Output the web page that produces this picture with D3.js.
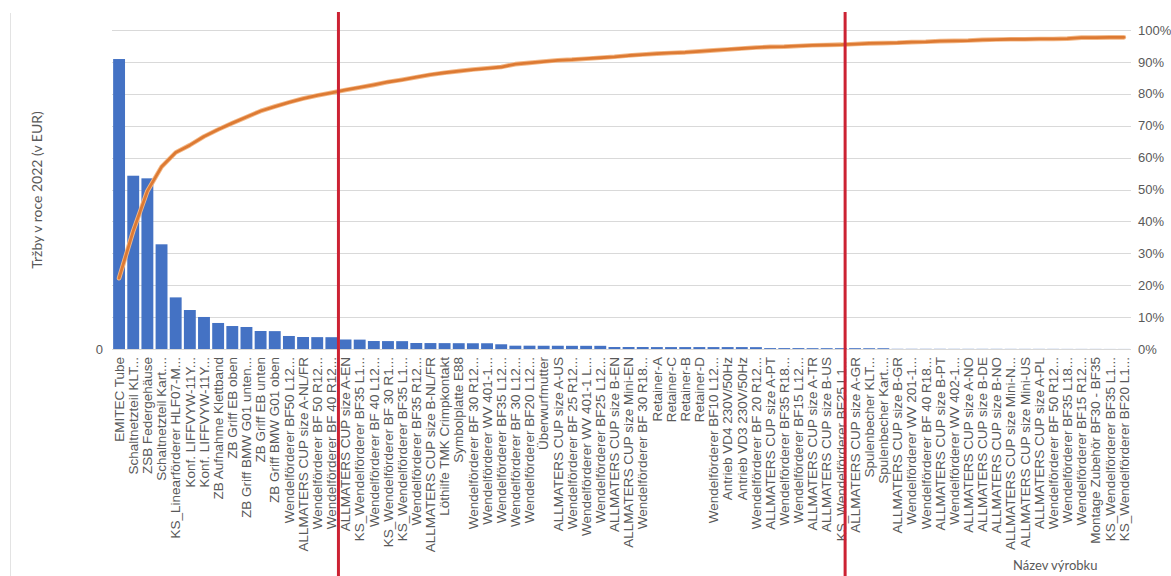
<!DOCTYPE html>
<html>
<head>
<meta charset="utf-8">
<script src="https://cdn.jsdelivr.net/npm/d3@7"></script>
<style>
  html, body { margin: 0; padding: 0; background: #ffffff; }
  svg { display: block; font-family: "Lato", "Open Sans", sans-serif; }
</style>
</head>
<body>
<svg id="chart" width="1171" height="576"></svg>
<script>
// Products ordered by 2022 revenue (Pareto order)
const categories = [
  "EMITEC Tube", "Schaltnetzteil KLT...", "ZSB Federgehäuse", "Schaltnetzteil Kart....",
  "KS_Linearförderer HLF07-M...", "Konf. LIFFVYW-11Y...", "Konf. LIFFVYW-11Y...", "ZB Aufnahme Klettband",
  "ZB Griff EB oben", "ZB Griff BMW G01 unten...", "ZB Griff EB unten", "ZB Griff BMW G01 oben",
  "Wendelförderer BF50 L12...", "ALLMATERS CUP size A-NL/FR", "Wendelförderer BF 50 R12...", "Wendelförderer BF 40 R12...",
  "ALLMATERS CUP size A-EN", "KS_Wendelförderer BF35 L1...", "Wendelförderer BF 40 L12...", "KS_Wendelförderer BF 30 R1...",
  "KS_Wendelförderer BF35 L1...", "Wendelförderer BF35 R12...", "ALLMATERS CUP size B-NL/FR", "Löthilfe TMK Crimpkontakt",
  "Symbolplatte E88", "Wendelförderer BF 30 R12...", "Wendelförderer WV 401-1...", "Wendelförderer BF35 L12...",
  "Wendelförderer BF 30 L12...", "Wendelförderer BF20 L12...", "Überwurfmutter", "ALLMATERS CUP size A-US",
  "Wendelförderer BF 25 R12...", "Wendelförderer WV 401-1 L...", "Wendelförderer BF25 L12...", "ALLMATERS CUP size B-EN",
  "ALLMATERS CUP size Mini-EN", "Wendelförderer BF 30 R18...", "Retainer-A", "Retainer-C",
  "Retainer-B", "Retainer-D", "Wendelförderer BF10 L12...", "Antrieb VD4 230V/50Hz",
  "Antrieb VD3 230V/50Hz", "Wendelförderer BF 20 R12...", "ALLMATERS CUP size A-PT", "Wendelförderer BF35 R18...",
  "Wendelförderer BF15 L12...", "ALLMATERS CUP size A-TR", "ALLMATERS CUP size B-US", "KS_Wendelförderer BF25 L1...",
  "ALLMATERS CUP size A-GR", "Spulenbecher KLT...", "Spulenbecher Kart....", "ALLMATERS CUP size B-GR",
  "Wendelförderer WV 201-1...", "Wendelförderer BF 40 R18...", "ALLMATERS CUP size B-PT", "Wendelförderer WV 402-1...",
  "ALLMATERS CUP size A-NO", "ALLMATERS CUP size B-DE", "ALLMATERS CUP size B-NO", "ALLMATERS CUP size Mini-N...",
  "ALLMATERS CUP size Mini-US", "ALLMATERS CUP size A-PL", "Wendelförderer BF 50 R12...", "Wendelförderer BF35 L18...",
  "Wendelförderer BF15 R12...", "Montage Zubehör BF30 - BF35", "KS_Wendelförderer BF35 L1...", "KS_Wendelförderer BF20 L1..."
];

// Revenue 2022 in EUR per product
const revenue = [
  454500, 271600, 267500, 164100, 80900, 61100, 50200, 40800,
  36000, 34500, 28200, 28000, 20400, 18800, 18600, 18500,
  14900, 14700, 12500, 12400, 12300, 9400, 9300, 9200,
  9100, 9000, 9000, 7400, 5200, 5200, 5100, 5100,
  5000, 5000, 5000, 3100, 3100, 3100, 3000, 3000,
  3000, 3000, 3000, 3000, 3000, 2900, 1400, 1400,
  1400, 1300, 1300, 1300, 1300, 1200, 1200, 300,
  300, 300, 300, 250, 250, 250, 250, 200,
  200, 200, 200, 150, 150, 150, 100, 100
];

// Cumulative share of total revenue (0..1)
const cumulativeShare = [
  0.222, 0.370, 0.495, 0.571, 0.616, 0.639, 0.666, 0.688,
  0.708, 0.727, 0.746, 0.760, 0.773, 0.785, 0.795, 0.803,
  0.812, 0.820, 0.828, 0.837, 0.844, 0.852, 0.860, 0.866,
  0.871, 0.876, 0.880, 0.884, 0.893, 0.897, 0.901, 0.905,
  0.907, 0.910, 0.913, 0.916, 0.920, 0.923, 0.926, 0.928,
  0.930, 0.933, 0.936, 0.939, 0.942, 0.945, 0.947, 0.948,
  0.950, 0.952, 0.953, 0.954, 0.956, 0.958, 0.959, 0.960,
  0.962, 0.963, 0.965, 0.966, 0.967, 0.969, 0.970, 0.971,
  0.971, 0.972, 0.972, 0.973, 0.976, 0.976, 0.977, 0.977
];

const shareTicks = [0, 0.1, 0.2, 0.3, 0.4, 0.5, 0.6, 0.7, 0.8, 0.9, 1.0];
const revenueTicks = [0];
const revenueMax = 500000;

// Class boundaries (A/B/C), given in category positions
const classBoundaries = [16, 51.8];

const yTitle = "Tržby v roce 2022 (v EUR)";
const xTitle = "Název výrobku";

// ---- layout ----
const plot = { left: 112, right: 1131, top: 30, bottom: 349 };
const svg = d3.select("#chart");

const x = d3.scaleBand()
  .domain(d3.range(categories.length))
  .range([plot.left, plot.right])
  .paddingInner(0.16)
  .paddingOuter(0.08);

const yRev = d3.scaleLinear().domain([0, revenueMax]).range([plot.bottom, plot.top]);
const yPct = d3.scaleLinear().domain([0, 1]).range([plot.bottom, plot.top]);

// chart area edge
svg.append("line")
  .attr("x1", 10.5).attr("x2", 10.5)
  .attr("y1", 13).attr("y2", 576)
  .attr("stroke", "#e3e3e3").attr("stroke-width", 1);

// gridlines
svg.append("g")
  .selectAll("line")
  .data(shareTicks)
  .join("line")
  .attr("x1", plot.left).attr("x2", plot.right)
  .attr("y1", d => Math.round(yPct(d)) + 0.5)
  .attr("y2", d => Math.round(yPct(d)) + 0.5)
  .attr("stroke", "#d9d9d9").attr("stroke-width", 1);

// bars
svg.append("g")
  .selectAll("rect")
  .data(revenue)
  .join("rect")
  .attr("x", (d, i) => x(i))
  .attr("width", x.bandwidth())
  .attr("y", d => yRev(d))
  .attr("height", d => yRev(0) - yRev(d))
  .attr("fill", "#4472c4");

// cumulative share line
const line = d3.line()
  .x((d, i) => x(i) + x.bandwidth() / 2)
  .y(d => yPct(d));

svg.append("path")
  .datum(cumulativeShare)
  .attr("d", line)
  .attr("fill", "none")
  .attr("stroke", "#f3b887")
  .attr("stroke-width", 4.6)
  .attr("stroke-linejoin", "round")
  .attr("stroke-linecap", "round");

svg.append("path")
  .datum(cumulativeShare)
  .attr("d", line)
  .attr("fill", "none")
  .attr("stroke", "#dd7a33")
  .attr("stroke-width", 2.8)
  .attr("stroke-linejoin", "round")
  .attr("stroke-linecap", "round");

// left axis
const leftAxis = svg.append("g")
  .attr("transform", `translate(${plot.left},0)`)
  .call(d3.axisLeft(yRev).tickValues(revenueTicks).tickSize(0).tickPadding(9).tickFormat(d3.format("d")));
leftAxis.select(".domain").remove();
leftAxis.selectAll("text").attr("fill", "#595959").style("font-size", "13px");

// right axis
const rightAxis = svg.append("g")
  .attr("transform", `translate(${plot.right},0)`)
  .call(d3.axisRight(yPct).tickValues(shareTicks).tickSize(0).tickPadding(7).tickFormat(d3.format(".0%")));
rightAxis.select(".domain").remove();
rightAxis.selectAll("text").attr("fill", "#595959").style("font-size", "13px");

// category axis
const bottomAxis = svg.append("g")
  .attr("transform", `translate(0,${plot.bottom})`)
  .call(d3.axisBottom(x).tickSize(0).tickPadding(0).tickFormat(i => categories[i]));
bottomAxis.select(".domain").remove();
bottomAxis.selectAll("text")
  .attr("fill", "#595959")
  .style("font-size", "13.5px")
  .attr("text-anchor", "end")
  .attr("transform", "rotate(-90)")
  .attr("x", -8)
  .attr("y", 0)
  .attr("dy", "0.35em");

// axis titles
svg.append("text")
  .attr("transform", "translate(42,190) rotate(-90)")
  .attr("text-anchor", "middle")
  .attr("fill", "#595959")
  .style("font-size", "14px")
  .text(yTitle);

svg.append("text")
  .attr("x", 1013).attr("y", 570)
  .attr("fill", "#595959")
  .style("font-size", "13px")
  .text(xTitle);

// class boundary markers
svg.append("g")
  .selectAll("line")
  .data(classBoundaries)
  .join("line")
  .attr("x1", d => plot.left + x.step() * (d + x.paddingOuter()) - x.step() * x.paddingInner() / 2)
  .attr("x2", d => plot.left + x.step() * (d + x.paddingOuter()) - x.step() * x.paddingInner() / 2)
  .attr("y1", 12).attr("y2", 576)
  .attr("stroke", "#cc2233")
  .attr("stroke-width", 3);
</script>
</body>
</html>
